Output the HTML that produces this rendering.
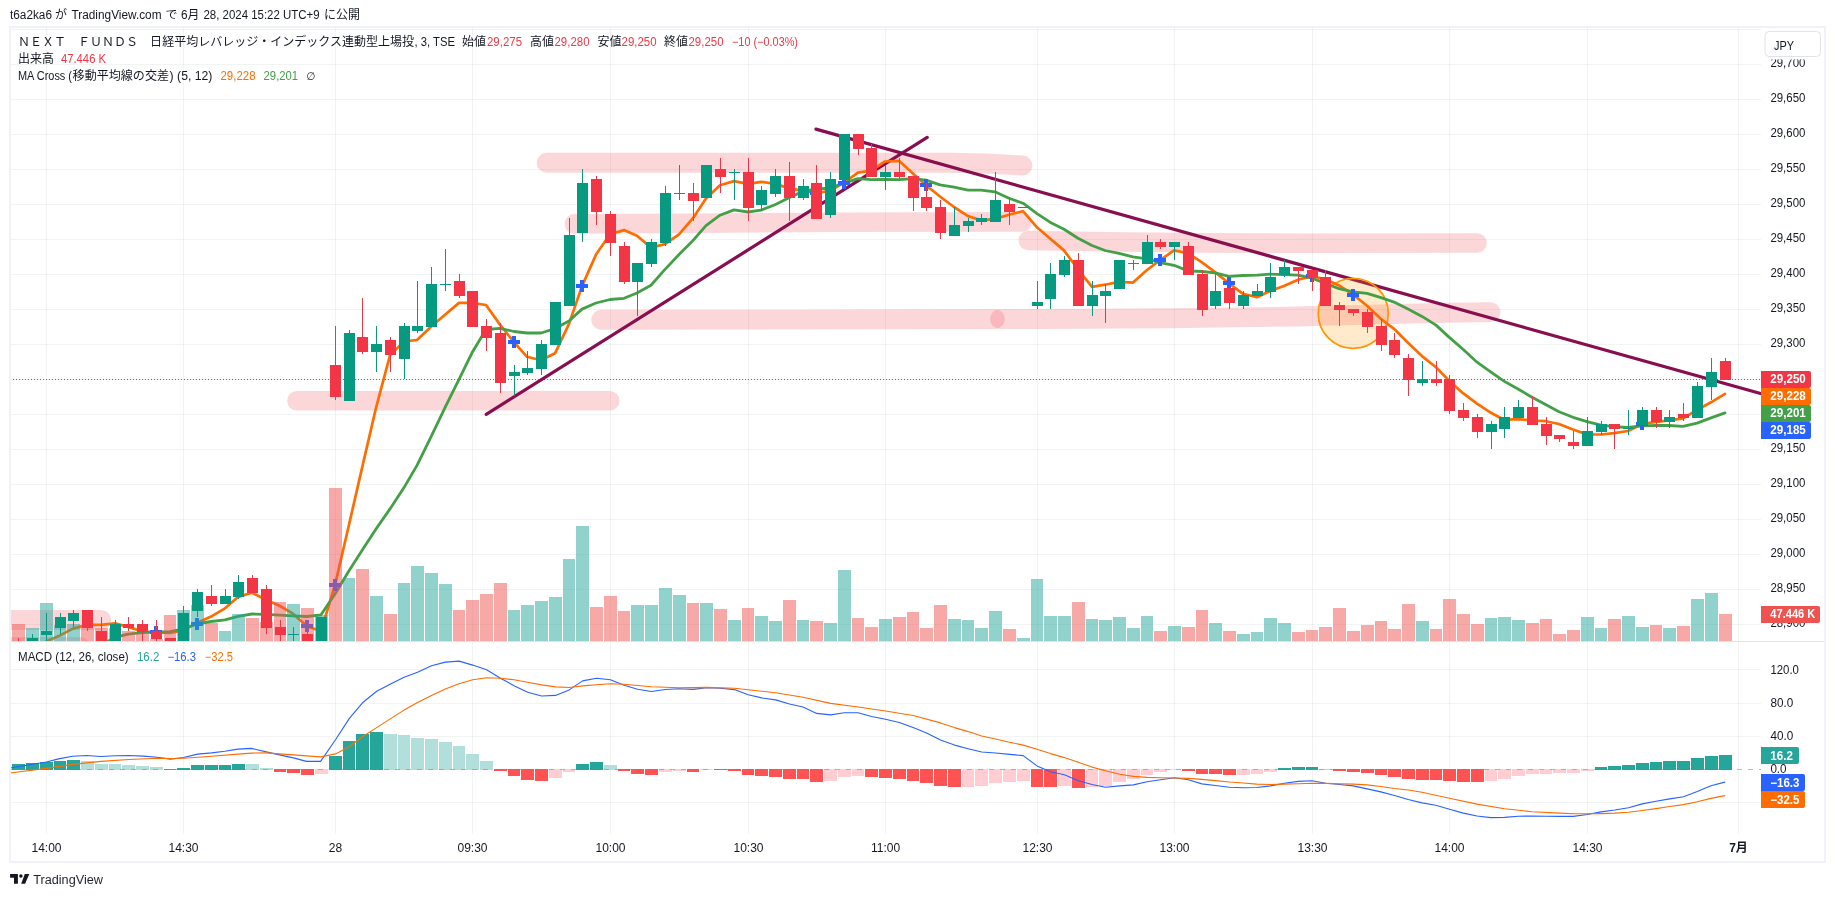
<!DOCTYPE html><html><head><meta charset="utf-8"><title>chart</title><style>html,body{margin:0;padding:0;background:#fff;overflow:hidden}svg{display:block;will-change:transform}text{font-family:'Liberation Sans','Noto Sans CJK JP',sans-serif;font-size:12px;fill:#131722}</style></head><body>
<svg width="1835" height="897" viewBox="0 0 1835 897">
<defs><clipPath id="main"><rect x="10" y="28" width="1751" height="613"/></clipPath><clipPath id="macd"><rect x="10" y="642" width="1751" height="192"/></clipPath></defs>
<path d="M11 29.5H1761 M11 64.5H1761 M11 99.5H1761 M11 134.5H1761 M11 169.5H1761 M11 204.5H1761 M11 239.5H1761 M11 274.5H1761 M11 309.5H1761 M11 344.5H1761 M11 379.5H1761 M11 414.5H1761 M11 449.5H1761 M11 484.5H1761 M11 519.5H1761 M11 554.5H1761 M11 589.5H1761 M11 624.5H1761 M11 669.5H1761 M11 703.5H1761 M11 736.5H1761 M11 802.5H1761" stroke="rgba(42,46,57,0.06)" stroke-width="1" fill="none" shape-rendering="crispEdges"/>
<path d="M46.5 28V833.5 M183.5 28V833.5 M335.5 28V833.5 M472.5 28V833.5 M610.5 28V833.5 M748.5 28V833.5 M885.5 28V833.5 M1037.5 28V833.5 M1174.5 28V833.5 M1312.5 28V833.5 M1449.5 28V833.5 M1587.5 28V833.5 M1738.5 28V833.5" stroke="rgba(42,46,57,0.06)" stroke-width="1" fill="none" shape-rendering="crispEdges"/>
<g clip-path="url(#main)">
<path d="M-20 620 L101.2 620" stroke="rgba(242,54,69,0.2)" stroke-width="20" stroke-linecap="round" stroke-linejoin="round" fill="none"/>
<path d="M-20 647 L80 647" stroke="rgba(242,54,69,0.2)" stroke-width="20" stroke-linecap="round" stroke-linejoin="round" fill="none"/>
<path d="M297 400.8 L609.7 400.8" stroke="rgba(242,54,69,0.2)" stroke-width="19.6" stroke-linecap="round" stroke-linejoin="round" fill="none"/>
<path d="M601.2 319.8 L800 319.6 L995 319" stroke="rgba(242,54,69,0.2)" stroke-width="19.9" stroke-linecap="round" stroke-linejoin="round" fill="none"/>
<path d="M1000 319 L1045 319 L1170 318.3 L1296 316.5 L1371 314.6 L1446 312.8 L1490.5 312.1" stroke="rgba(242,54,69,0.2)" stroke-width="19.9" stroke-linecap="round" stroke-linejoin="round" fill="none"/>
<path d="M546.7 162.7 L950 162.8 L985 163.4 L1005 164.5 L1022.4 165.6" stroke="rgba(242,54,69,0.2)" stroke-width="20" stroke-linecap="round" stroke-linejoin="round" fill="none"/>
<path d="M574.4 223.9 L697 223.3 L836 222.2 L1022.3 221.9" stroke="rgba(242,54,69,0.2)" stroke-width="19.6" stroke-linecap="round" stroke-linejoin="round" fill="none"/>
<path d="M1028.3 240.5 L1108 241.7 L1206 242.9 L1304 243.2 L1477 243" stroke="rgba(242,54,69,0.2)" stroke-width="19.6" stroke-linecap="round" stroke-linejoin="round" fill="none"/>
<path d="M10 379.5H1761" stroke="#f23645" stroke-width="1" stroke-dasharray="1 2" fill="none" shape-rendering="crispEdges"/>
<path d="M486.2 414.4L927.2 137.4" stroke="#880e4f" stroke-width="3.2" stroke-linecap="round" fill="none"/>
<path d="M815.9 129.1L1770 396.2" stroke="#880e4f" stroke-width="3.2" stroke-linecap="round" fill="none"/>
<circle cx="1353.25" cy="313.4" r="35" fill="rgba(255,152,0,0.2)" stroke="#ff9800" stroke-width="1.8"/>
<path d="M46.4 641.2 L60.0 635.4 L73.0 628.6 L87.0 624.9 L101.0 624.9 L115.0 623.4 L128.0 626.9 L142.0 631.3 L156.0 632.7 L170.0 633.0 L183.0 630.4 L197.0 623.0 L211.0 616.6 L225.0 608.3 L238.0 596.9 L252.0 592.7 L266.0 599.7 L280.0 606.0 L293.0 613.7 L307.0 626.3 L321.0 631.2 L335.0 585.0 L349.0 524.8 L362.0 468.1 L376.0 407.9 L390.0 355.4 L404.0 341.4 L417.0 340.0 L431.0 326.7 L445.0 314.8 L459.0 302.9 L472.0 302.9 L486.0 305.0 L500.0 324.6 L514.0 342.1 L527.0 356.8 L541.0 360.3 L555.0 353.3 L569.0 323.9 L582.0 286.1 L596.0 254.6 L610.0 234.3 L624.0 230.1 L637.0 235.7 L651.0 247.6 L665.0 244.1 L679.0 234.3 L693.0 218.2 L706.0 198.6 L720.0 185.3 L734.0 181.1 L748.0 183.9 L761.0 181.8 L775.0 183.9 L789.0 188.1 L803.0 190.9 L816.0 193.0 L830.0 190.9 L844.0 182.5 L858.0 172.7 L871.0 170.6 L885.0 161.5 L899.0 160.8 L913.0 173.4 L926.0 185.3 L940.0 196.5 L954.0 207.0 L968.0 216.1 L981.0 220.3 L995.0 218.9 L1009.0 214.7 L1023.0 211.2 L1037.0 227.3 L1050.0 238.5 L1064.0 250.4 L1078.0 269.3 L1092.0 286.8 L1105.0 284.7 L1119.0 281.9 L1133.0 282.6 L1147.0 270.0 L1160.0 260.2 L1174.0 250.4 L1188.0 253.2 L1202.0 262.3 L1215.0 272.1 L1229.0 283.3 L1243.0 293.8 L1257.0 297.3 L1270.0 291.0 L1284.0 286.1 L1298.0 279.8 L1312.0 276.3 L1325.0 279.1 L1339.0 285.4 L1353.0 294.5 L1367.0 305.7 L1381.0 319.0 L1394.0 328.8 L1408.0 342.8 L1422.0 356.1 L1436.0 367.3 L1449.0 380.6 L1463.0 393.2 L1477.0 403.7 L1491.0 412.8 L1504.0 419.8 L1518.0 419.1 L1532.0 420.5 L1546.0 421.2 L1559.0 424.0 L1573.0 429.6 L1587.0 434.5 L1601.0 434.5 L1614.0 433.1 L1628.0 431.0 L1642.0 424.0 L1656.0 421.9 L1669.0 420.5 L1683.0 418.4 L1697.0 410.0 L1711.0 402.3 L1725.0 393.9" stroke="#ff6d00" stroke-width="2.7" stroke-linejoin="round" stroke-linecap="round" fill="none"/>
<path d="M107.8 641.5 L115.0 637.3 L128.0 634.1 L142.0 632.7 L156.0 632.1 L170.0 631.7 L183.0 629.0 L197.0 624.0 L211.0 621.5 L225.0 619.8 L238.0 616.3 L252.0 614.0 L266.0 614.3 L280.0 615.2 L293.0 615.8 L307.0 616.5 L321.0 614.8 L335.0 594.0 L349.0 570.7 L362.0 550.6 L376.0 529.0 L390.0 508.9 L404.0 487.6 L417.0 465.4 L431.0 436.8 L445.0 407.7 L459.0 379.4 L472.0 352.8 L486.0 329.5 L500.0 328.3 L514.0 331.5 L527.0 333.0 L541.0 333.0 L555.0 328.6 L569.0 321.0 L582.0 309.1 L596.0 303.0 L610.0 299.5 L624.0 298.3 L637.0 293.0 L651.0 285.2 L665.0 269.4 L679.0 254.5 L693.0 240.5 L706.0 225.7 L720.0 215.2 L734.0 209.9 L748.0 212.0 L761.0 210.2 L775.0 204.7 L789.0 197.7 L803.0 191.2 L816.0 189.2 L830.0 188.0 L844.0 183.1 L858.0 178.7 L871.0 179.6 L885.0 179.3 L899.0 179.6 L913.0 178.7 L926.0 180.2 L940.0 184.8 L954.0 187.2 L968.0 190.1 L981.0 190.1 L995.0 191.8 L1009.0 198.2 L1023.0 203.2 L1037.0 213.7 L1050.0 222.2 L1064.0 229.2 L1078.0 238.2 L1092.0 245.5 L1105.0 250.5 L1119.0 253.4 L1133.0 256.9 L1147.0 258.9 L1160.0 262.7 L1174.0 265.3 L1188.0 270.9 L1202.0 271.5 L1215.0 272.9 L1229.0 276.4 L1243.0 275.5 L1257.0 275.2 L1270.0 274.1 L1284.0 274.7 L1298.0 275.2 L1312.0 278.2 L1325.0 283.1 L1339.0 288.7 L1353.0 291.9 L1367.0 293.3 L1381.0 297.7 L1394.0 302.1 L1408.0 309.1 L1422.0 316.4 L1436.0 325.1 L1449.0 337.1 L1463.0 349.3 L1477.0 362.2 L1491.0 372.1 L1504.0 381.1 L1518.0 389.0 L1532.0 397.2 L1546.0 404.8 L1559.0 411.8 L1573.0 417.3 L1587.0 421.7 L1601.0 425.2 L1614.0 426.6 L1628.0 427.5 L1642.0 425.8 L1656.0 425.5 L1669.0 425.5 L1683.0 426.3 L1697.0 423.1 L1711.0 417.9 L1725.0 412.9" stroke="#43a047" stroke-width="2.8" stroke-linejoin="round" stroke-linecap="round" fill="none"/>
<path d="M150.0 630h12v4h-12zM154.0 626h4v12h-4zM191.0 622h12v4h-12zM195.0 618h4v12h-4zM301.0 624h12v4h-12zM305.0 620h4v12h-4zM329.0 583h12v4h-12zM333.0 579h4v12h-4zM508.0 340h12v4h-12zM512.0 336h4v12h-4zM576.0 284h12v4h-12zM580.0 280h4v12h-4zM810.0 191h12v4h-12zM814.0 187h4v12h-4zM838.0 181h12v4h-12zM842.0 177h4v12h-4zM920.0 183h12v4h-12zM924.0 179h4v12h-4zM1154.0 258h12v4h-12zM1158.0 254h4v12h-4zM1223.0 281h12v4h-12zM1227.0 277h4v12h-4zM1306.0 274h12v4h-12zM1310.0 270h4v12h-4zM1347.0 293h12v4h-12zM1351.0 289h4v12h-4zM1636.0 422h12v4h-12zM1640.0 418h4v12h-4z" fill="#2962ff" shape-rendering="crispEdges"/>
<path d="M26.0 628h13.0V641h-13.0zM40.0 603h13.0V641h-13.0zM54.0 625h12.0V641h-12.0zM67.0 624h13.0V641h-13.0zM109.0 628h12.0V641h-12.0zM177.0 610h13.0V641h-13.0zM191.0 605h13.0V641h-13.0zM219.0 631h12.0V641h-12.0zM232.0 614h13.0V641h-13.0zM287.0 604h13.0V641h-13.0zM315.0 615h13.0V641h-13.0zM343.0 578h12.0V641h-12.0zM370.0 596h13.0V641h-13.0zM398.0 583h12.0V641h-12.0zM411.0 566h13.0V641h-13.0zM425.0 573h13.0V641h-13.0zM439.0 584h13.0V641h-13.0zM508.0 610h12.0V641h-12.0zM521.0 605h13.0V641h-13.0zM535.0 601h13.0V641h-13.0zM549.0 597h13.0V641h-13.0zM563.0 559h12.0V641h-12.0zM576.0 526h13.0V641h-13.0zM631.0 605h13.0V641h-13.0zM645.0 605h13.0V641h-13.0zM659.0 588h13.0V641h-13.0zM673.0 595h13.0V641h-13.0zM700.0 603h13.0V641h-13.0zM728.0 620h13.0V641h-13.0zM755.0 616h13.0V641h-13.0zM769.0 621h13.0V641h-13.0zM797.0 620h12.0V641h-12.0zM824.0 623h13.0V641h-13.0zM838.0 570h13.0V641h-13.0zM879.0 619h13.0V641h-13.0zM948.0 619h13.0V641h-13.0zM962.0 620h12.0V641h-12.0zM975.0 628h13.0V641h-13.0zM989.0 611h13.0V641h-13.0zM1017.0 638h13.0V641h-13.0zM1031.0 579h12.0V641h-12.0zM1044.0 616h13.0V641h-13.0zM1058.0 616h13.0V641h-13.0zM1086.0 619h12.0V641h-12.0zM1099.0 620h13.0V641h-13.0zM1113.0 617h13.0V641h-13.0zM1127.0 628h13.0V641h-13.0zM1141.0 616h12.0V641h-12.0zM1168.0 626h13.0V641h-13.0zM1209.0 623h13.0V641h-13.0zM1237.0 634h13.0V641h-13.0zM1251.0 632h12.0V641h-12.0zM1264.0 618h13.0V641h-13.0zM1278.0 623h13.0V641h-13.0zM1416.0 621h13.0V641h-13.0zM1485.0 618h12.0V641h-12.0zM1498.0 617h13.0V641h-13.0zM1512.0 620h13.0V641h-13.0zM1581.0 617h13.0V641h-13.0zM1595.0 628h12.0V641h-12.0zM1622.0 616h13.0V641h-13.0zM1636.0 627h13.0V641h-13.0zM1663.0 628h13.0V641h-13.0zM1691.0 599h13.0V641h-13.0zM1705.0 593h13.0V641h-13.0z" fill="rgba(38,166,154,0.5)"/>
<path d="M12.0 624h13.0V641h-13.0zM81.0 628h13.0V641h-13.0zM95.0 628h13.0V641h-13.0zM122.0 631h13.0V641h-13.0zM136.0 634h13.0V641h-13.0zM150.0 639h13.0V641h-13.0zM164.0 615h12.0V641h-12.0zM205.0 623h13.0V641h-13.0zM246.0 618h13.0V641h-13.0zM260.0 622h13.0V641h-13.0zM274.0 602h12.0V641h-12.0zM301.0 608h13.0V641h-13.0zM329.0 488h13.0V641h-13.0zM356.0 569h13.0V641h-13.0zM384.0 614h13.0V641h-13.0zM453.0 610h12.0V641h-12.0zM466.0 600h13.0V641h-13.0zM480.0 594h13.0V641h-13.0zM494.0 583h13.0V641h-13.0zM590.0 607h13.0V641h-13.0zM604.0 596h13.0V641h-13.0zM618.0 611h12.0V641h-12.0zM687.0 603h12.0V641h-12.0zM714.0 609h13.0V641h-13.0zM742.0 608h12.0V641h-12.0zM783.0 600h13.0V641h-13.0zM810.0 621h13.0V641h-13.0zM852.0 618h12.0V641h-12.0zM865.0 627h13.0V641h-13.0zM893.0 617h13.0V641h-13.0zM907.0 612h12.0V641h-12.0zM920.0 628h13.0V641h-13.0zM934.0 605h13.0V641h-13.0zM1003.0 629h13.0V641h-13.0zM1072.0 602h13.0V641h-13.0zM1154.0 631h13.0V641h-13.0zM1182.0 627h13.0V641h-13.0zM1196.0 610h12.0V641h-12.0zM1223.0 631h13.0V641h-13.0zM1292.0 632h13.0V641h-13.0zM1306.0 630h12.0V641h-12.0zM1319.0 627h13.0V641h-13.0zM1333.0 608h13.0V641h-13.0zM1347.0 631h13.0V641h-13.0zM1361.0 625h13.0V641h-13.0zM1375.0 621h12.0V641h-12.0zM1388.0 629h13.0V641h-13.0zM1402.0 604h13.0V641h-13.0zM1430.0 629h12.0V641h-12.0zM1443.0 599h13.0V641h-13.0zM1457.0 614h13.0V641h-13.0zM1471.0 624h13.0V641h-13.0zM1526.0 623h13.0V641h-13.0zM1540.0 619h12.0V641h-12.0zM1553.0 634h13.0V641h-13.0zM1567.0 630h13.0V641h-13.0zM1608.0 619h13.0V641h-13.0zM1650.0 625h12.0V641h-12.0zM1677.0 626h13.0V641h-13.0zM1719.0 614h13V641h-13z" fill="rgba(239,83,80,0.5)"/>
<path d="M32.5 634V650M46.5 613V650M60.5 613V634M73.5 610V627M115.5 620V650M183.5 606V650M197.5 589V617M225.5 589V604M238.5 575V599M293.5 627V650M321.5 617V650M349.5 330V401M376.5 326V372M404.5 323V379M417.5 281V333M431.5 267V327M445.5 249V291M514.5 365V396M527.5 351V375M541.5 340V375M555.5 302V345M569.5 218V306M582.5 169V242M637.5 263V316M651.5 239V267M665.5 186V246M679.5 165V200M706.5 165V198M734.5 169V200M761.5 186V211M775.5 169V197M803.5 179V200M830.5 172V218M844.5 134V180M885.5 165V190M954.5 207V236M968.5 218V232M981.5 214V225M995.5 172V222M1023.5 207V208M1037.5 281V309M1050.5 263V309M1064.5 256V277M1092.5 281V316M1105.5 284V323M1119.5 260V289M1133.5 260V270M1147.5 235V264M1174.5 242V260M1215.5 274V309M1243.5 291V309M1257.5 284V296M1270.5 263V298M1284.5 260V277M1422.5 361V386M1491.5 421V449M1504.5 407V438M1518.5 400V418M1587.5 417V446M1601.5 421V435M1628.5 410V435M1642.5 407V425M1669.5 410V428M1697.5 382V418M1711.5 358V400" stroke="#089981" stroke-width="1" fill="none" shape-rendering="crispEdges"/>
<path d="M18.5 638V650M87.5 610V631M101.5 617V650M128.5 617V631M142.5 620V650M156.5 620V640.8M170.5 638V650M211.5 585V606M252.5 575V593M266.5 585V634M280.5 620V650M307.5 627V650M335.5 326V400M362.5 298V354M390.5 337V372M459.5 274V298M472.5 291V327M486.5 319V351M500.5 323V393M596.5 176V225M610.5 211V256M624.5 242V284M693.5 183V221M720.5 158V193M748.5 158V221M789.5 162V221M816.5 165V219M858.5 134V155M871.5 144V177M899.5 158V179M913.5 176V211M926.5 183V211M940.5 200V239M1009.5 197V225M1078.5 253V306M1160.5 239V249M1188.5 242V275M1202.5 270V316M1229.5 288V309M1298.5 267V284M1312.5 270V291M1325.5 270V306M1339.5 302V326M1353.5 309V316M1367.5 309V333M1381.5 319V351M1394.5 333V358M1408.5 354V396M1436.5 361V386M1449.5 375V414M1463.5 403V421M1477.5 414V438M1532.5 396V425M1546.5 417V445M1559.5 435V442M1573.5 431V449M1614.5 424V449M1656.5 407V428M1683.5 403V421M1725.5 358V380" stroke="#f23645" stroke-width="1" fill="none" shape-rendering="crispEdges"/>
<path d="M27.0 638h11V650h-11zM41.0 631h11V635h-11zM55.0 617h11V628h-11zM68.0 613h11V621h-11zM110.0 624h11V650h-11zM178.0 613h11V650h-11zM192.0 592h11V611h-11zM220.0 596h11V604h-11zM233.0 582h11V597h-11zM288.0 634h11V635h-11zM316.0 617h11V650h-11zM344.0 333h11V401h-11zM371.0 344h11V352h-11zM399.0 326h11V359h-11zM412.0 326h11V331h-11zM426.0 284h11V327h-11zM440.0 284h11V285h-11zM509.0 372h11V376h-11zM522.0 368h11V373h-11zM536.0 344h11V369h-11zM550.0 302h11V345h-11zM564.0 235h11V306h-11zM577.0 183h11V233h-11zM632.0 263h11V282h-11zM646.0 242h11V264h-11zM660.0 193h11V243h-11zM674.0 193h11V194h-11zM701.0 165h11V198h-11zM729.0 172h11V173h-11zM756.0 190h11V205h-11zM770.0 176h11V194h-11zM798.0 186h11V198h-11zM825.0 179h11V215h-11zM839.0 134h11V180h-11zM880.0 172h11V177h-11zM949.0 225h11V236h-11zM963.0 221h11V226h-11zM976.0 218h11V222h-11zM990.0 200h11V222h-11zM1018.0 207h11V208h-11zM1032.0 302h11V306h-11zM1045.0 274h11V299h-11zM1059.0 260h11V275h-11zM1087.0 295h11V306h-11zM1100.0 291h11V296h-11zM1114.0 260h11V289h-11zM1128.0 263h11V264h-11zM1142.0 242h11V264h-11zM1169.0 242h11V247h-11zM1210.0 291h11V306h-11zM1238.0 295h11V306h-11zM1252.0 291h11V296h-11zM1265.0 277h11V292h-11zM1279.0 267h11V275h-11zM1417.0 379h11V383h-11zM1486.0 424h11V432h-11zM1499.0 417h11V429h-11zM1513.0 407h11V418h-11zM1582.0 431h11V446h-11zM1596.0 424h11V432h-11zM1623.0 428h11V429h-11zM1637.0 410h11V425h-11zM1664.0 417h11V422h-11zM1692.0 386h11V418h-11zM1706.0 372h11V387h-11z" fill="#089981" shape-rendering="crispEdges"/>
<path d="M13.0 641h11V650h-11zM82.0 610h11V628h-11zM96.0 631h11V650h-11zM123.0 624h11V628h-11zM137.0 624h11V632h-11zM151.0 631h11V639h-11zM165.0 638h11V650h-11zM206.0 596h11V604h-11zM247.0 578h11V593h-11zM261.0 589h11V628h-11zM275.0 627h11V635h-11zM302.0 634h11V650h-11zM330.0 365h11V397h-11zM357.0 337h11V352h-11zM385.0 340h11V355h-11zM454.0 281h11V296h-11zM467.0 291h11V327h-11zM481.0 326h11V338h-11zM495.0 333h11V383h-11zM591.0 179h11V212h-11zM605.0 214h11V243h-11zM619.0 246h11V282h-11zM688.0 193h11V201h-11zM715.0 169h11V177h-11zM743.0 172h11V208h-11zM784.0 176h11V198h-11zM811.0 183h11V219h-11zM853.0 134h11V149h-11zM866.0 148h11V177h-11zM894.0 172h11V177h-11zM908.0 176h11V198h-11zM921.0 197h11V208h-11zM935.0 207h11V233h-11zM1004.0 204h11V212h-11zM1073.0 260h11V306h-11zM1155.0 242h11V247h-11zM1183.0 246h11V275h-11zM1197.0 274h11V310h-11zM1224.0 288h11V303h-11zM1293.0 267h11V271h-11zM1307.0 270h11V278h-11zM1320.0 277h11V306h-11zM1334.0 305h11V310h-11zM1348.0 309h11V313h-11zM1362.0 312h11V327h-11zM1376.0 326h11V345h-11zM1389.0 340h11V355h-11zM1403.0 358h11V380h-11zM1431.0 379h11V383h-11zM1444.0 379h11V411h-11zM1458.0 410h11V418h-11zM1472.0 417h11V432h-11zM1527.0 407h11V425h-11zM1541.0 424h11V436h-11zM1554.0 435h11V439h-11zM1568.0 442h11V446h-11zM1609.0 424h11V429h-11zM1651.0 410h11V422h-11zM1678.0 414h11V418h-11zM1720.0 361h11V380h-11z" fill="#f23645" shape-rendering="crispEdges"/>
</g>
<g clip-path="url(#macd)">
<path d="M12.0 764h13.0V770h-13.0zM26.0 763h13.0V770h-13.0zM40.0 762h13.0V770h-13.0zM54.0 761h12.0V770h-12.0zM67.0 760h13.0V770h-13.0zM177.0 768h13.0V770h-13.0zM191.0 765h13.0V770h-13.0zM205.0 765h13.0V770h-13.0zM219.0 765h12.0V770h-12.0zM232.0 764h13.0V770h-13.0zM329.0 756h13.0V770h-13.0zM343.0 741h12.0V770h-12.0zM356.0 734h13.0V770h-13.0zM370.0 732h13.0V770h-13.0zM576.0 764h13.0V770h-13.0zM590.0 762h13.0V770h-13.0zM1278.0 768h13.0V770h-13.0zM1292.0 767h13.0V770h-13.0zM1306.0 767h12.0V770h-12.0zM1595.0 767h12.0V770h-12.0zM1608.0 766h13.0V770h-13.0zM1622.0 765h13.0V770h-13.0zM1636.0 763h13.0V770h-13.0zM1650.0 762h12.0V770h-12.0zM1663.0 761h13.0V770h-13.0zM1677.0 761h13.0V770h-13.0zM1691.0 758h13.0V770h-13.0zM1705.0 756h13.0V770h-13.0zM1719.0 755h13V770h-13z" fill="#26a69a"/>
<path d="M81.0 761h13.0V770h-13.0zM95.0 764h13.0V770h-13.0zM109.0 764h12.0V770h-12.0zM122.0 765h13.0V770h-13.0zM136.0 766h13.0V770h-13.0zM150.0 767h13.0V770h-13.0zM246.0 764h13.0V770h-13.0zM260.0 768h13.0V770h-13.0zM384.0 734h13.0V770h-13.0zM398.0 735h12.0V770h-12.0zM411.0 738h13.0V770h-13.0zM425.0 739h13.0V770h-13.0zM439.0 742h13.0V770h-13.0zM453.0 746h12.0V770h-12.0zM466.0 754h13.0V770h-13.0zM480.0 761h13.0V770h-13.0zM604.0 765h13.0V770h-13.0zM1319.0 769h13.0V770h-13.0z" fill="#b2dfdb"/>
<path d="M164.0 769h12.0V770h-12.0zM274.0 769h12.0V772h-12.0zM287.0 769h13.0V773h-13.0zM301.0 769h13.0V775h-13.0zM494.0 769h13.0V771h-13.0zM508.0 769h12.0V776h-12.0zM521.0 769h13.0V780h-13.0zM535.0 769h13.0V781h-13.0zM618.0 769h12.0V771h-12.0zM631.0 769h13.0V774h-13.0zM645.0 769h13.0V775h-13.0zM687.0 769h12.0V772h-12.0zM714.0 769h13.0V770h-13.0zM728.0 769h13.0V771h-13.0zM742.0 769h12.0V775h-12.0zM755.0 769h13.0V776h-13.0zM769.0 769h13.0V777h-13.0zM783.0 769h13.0V779h-13.0zM797.0 769h12.0V779h-12.0zM810.0 769h13.0V782h-13.0zM865.0 769h13.0V777h-13.0zM879.0 769h13.0V778h-13.0zM893.0 769h13.0V779h-13.0zM907.0 769h12.0V781h-12.0zM920.0 769h13.0V783h-13.0zM934.0 769h13.0V786h-13.0zM948.0 769h13.0V787h-13.0zM1031.0 769h12.0V787h-12.0zM1044.0 769h13.0V787h-13.0zM1072.0 769h13.0V788h-13.0zM1182.0 769h13.0V771h-13.0zM1196.0 769h12.0V774h-12.0zM1209.0 769h13.0V774h-13.0zM1223.0 769h13.0V775h-13.0zM1333.0 769h13.0V771h-13.0zM1347.0 769h13.0V772h-13.0zM1361.0 769h13.0V773h-13.0zM1375.0 769h12.0V775h-12.0zM1388.0 769h13.0V777h-13.0zM1402.0 769h13.0V779h-13.0zM1416.0 769h13.0V780h-13.0zM1430.0 769h12.0V780h-12.0zM1443.0 769h13.0V781h-13.0zM1457.0 769h13.0V782h-13.0zM1471.0 769h13.0V782h-13.0z" fill="#ff5252"/>
<path d="M315.0 769h13.0V774h-13.0zM549.0 769h13.0V778h-13.0zM563.0 769h12.0V772h-12.0zM659.0 769h13.0V772h-13.0zM673.0 769h13.0V771h-13.0zM700.0 769h13.0V770h-13.0zM824.0 769h13.0V781h-13.0zM838.0 769h13.0V777h-13.0zM852.0 769h12.0V776h-12.0zM962.0 769h12.0V787h-12.0zM975.0 769h13.0V786h-13.0zM989.0 769h13.0V783h-13.0zM1003.0 769h13.0V782h-13.0zM1017.0 769h13.0V781h-13.0zM1058.0 769h13.0V786h-13.0zM1086.0 769h12.0V787h-12.0zM1099.0 769h13.0V786h-13.0zM1113.0 769h13.0V782h-13.0zM1127.0 769h13.0V779h-13.0zM1141.0 769h12.0V775h-12.0zM1154.0 769h13.0V772h-13.0zM1168.0 769h13.0V770h-13.0zM1237.0 769h13.0V775h-13.0zM1251.0 769h12.0V774h-12.0zM1264.0 769h13.0V772h-13.0zM1485.0 769h12.0V781h-12.0zM1498.0 769h13.0V779h-13.0zM1512.0 769h13.0V776h-13.0zM1526.0 769h13.0V774h-13.0zM1540.0 769h12.0V774h-12.0zM1553.0 769h13.0V773h-13.0zM1567.0 769h13.0V773h-13.0zM1581.0 769h13.0V771h-13.0z" fill="#ffcdd2"/>
<path d="M10 769.5H1761" stroke="#787b86" stroke-opacity="0.5" stroke-width="1" stroke-dasharray="5 6" fill="none"/>
<path d="M10.0 768.0 L46.4 762.0 L58.5 758.9 L72.6 756.3 L86.7 755.5 L100.8 756.5 L115.0 755.7 L129.0 755.5 L143.2 756.1 L157.3 757.3 L170.4 759.1 L183.5 757.5 L197.6 754.1 L211.7 752.9 L224.8 751.3 L238.0 749.1 L251.5 748.4 L266.2 751.9 L279.3 754.9 L293.4 757.9 L306.5 761.4 L320.6 761.4 L335.5 739.7 L349.2 718.6 L362.5 702.8 L376.7 691.3 L390.6 683.9 L404.1 677.2 L417.6 672.2 L431.5 665.7 L445.4 662.1 L459.1 661.1 L472.7 665.1 L486.6 669.8 L500.5 678.2 L514.0 685.7 L527.7 692.3 L541.6 696.0 L555.5 695.4 L569.2 689.9 L582.6 680.9 L596.5 678.2 L610.4 679.8 L624.1 685.3 L637.6 689.3 L651.5 691.5 L665.4 689.5 L678.9 688.7 L693.3 689.4 L706.8 687.8 L720.3 688.2 L734.4 689.6 L748.2 694.7 L761.7 697.9 L775.6 699.9 L789.5 704.0 L803.0 707.0 L816.7 713.4 L830.6 714.9 L844.3 712.8 L858.1 712.8 L871.6 716.5 L885.5 719.3 L899.4 722.5 L913.1 727.6 L926.6 733.0 L940.5 740.1 L954.5 745.1 L968.2 748.7 L981.7 752.0 L995.6 753.0 L1009.5 754.4 L1023.2 755.6 L1037.0 765.9 L1050.5 771.8 L1064.4 774.8 L1078.3 780.8 L1092.0 784.5 L1105.5 787.3 L1119.7 785.9 L1133.4 784.9 L1147.1 781.8 L1160.6 779.8 L1174.5 777.8 L1188.4 779.8 L1201.9 783.9 L1215.4 785.5 L1229.6 787.3 L1243.3 787.7 L1256.8 787.5 L1270.5 785.9 L1284.4 783.2 L1298.3 781.4 L1312.0 780.8 L1325.7 783.2 L1339.5 784.5 L1353.2 785.9 L1367.1 788.9 L1380.8 791.9 L1394.5 795.5 L1408.2 799.5 L1422.0 802.9 L1435.8 805.3 L1449.5 809.3 L1463.3 813.1 L1477.0 816.0 L1490.8 817.6 L1504.6 817.4 L1518.3 816.2 L1532.1 816.0 L1545.8 816.2 L1559.6 816.4 L1573.3 816.4 L1587.3 814.5 L1601.0 811.9 L1614.8 810.0 L1628.5 807.7 L1642.3 803.9 L1656.0 801.3 L1669.8 798.9 L1683.5 796.8 L1697.3 791.5 L1711.0 785.8 L1724.8 782.1" stroke="#2962ff" stroke-width="1.1" stroke-linejoin="round" stroke-linecap="round" fill="none"/>
<path d="M10.0 773.0 L46.4 768.4 L72.6 764.4 L100.8 761.4 L129.0 759.5 L157.3 758.3 L170.4 758.5 L183.5 758.3 L211.7 756.3 L238.0 754.1 L251.5 753.1 L266.2 752.9 L279.3 753.9 L293.4 754.9 L306.5 755.9 L320.6 756.9 L335.5 753.9 L349.2 746.8 L362.5 736.7 L376.7 727.6 L390.6 718.6 L404.1 710.1 L417.6 702.4 L431.5 695.4 L445.4 688.9 L459.1 683.7 L472.7 679.8 L486.6 677.8 L500.5 678.2 L514.0 679.8 L527.7 682.3 L541.6 684.9 L555.5 686.9 L569.2 687.5 L582.6 685.9 L596.5 684.7 L610.4 683.7 L624.1 684.3 L637.6 685.5 L651.5 686.7 L665.4 687.3 L678.9 687.7 L706.8 687.4 L734.4 688.2 L748.2 689.8 L775.6 692.7 L803.0 697.3 L830.6 703.4 L858.1 707.0 L885.5 711.0 L913.1 715.5 L940.5 722.9 L954.5 727.6 L968.2 731.6 L981.7 736.0 L995.6 739.0 L1009.5 742.3 L1023.2 745.1 L1037.0 749.3 L1050.5 753.6 L1064.4 757.6 L1078.3 762.3 L1092.0 767.1 L1105.5 770.7 L1119.7 774.2 L1133.4 776.4 L1147.1 777.4 L1160.6 777.8 L1174.5 778.0 L1188.4 778.4 L1201.9 779.4 L1215.4 780.6 L1229.6 782.0 L1243.3 783.0 L1256.8 784.1 L1270.5 784.5 L1284.4 784.1 L1298.3 783.7 L1312.0 783.2 L1325.7 783.4 L1339.5 783.7 L1353.2 784.1 L1367.1 784.9 L1380.8 786.5 L1394.5 788.5 L1408.2 790.0 L1422.0 792.2 L1449.5 798.2 L1477.0 804.1 L1504.6 808.8 L1532.1 811.7 L1559.6 813.1 L1573.3 813.8 L1587.3 813.8 L1601.0 813.6 L1614.8 813.1 L1628.5 812.2 L1642.3 810.5 L1656.0 808.6 L1669.8 806.5 L1683.5 804.6 L1697.3 801.7 L1711.0 798.4 L1724.8 795.6" stroke="#ff6d00" stroke-width="1.1" stroke-linejoin="round" stroke-linecap="round" fill="none"/>
</g>
<path d="M10 641.5H1824" stroke="#e0e3eb" stroke-width="1" fill="none" shape-rendering="crispEdges"/>
<rect x="10" y="27" width="1815" height="835" fill="none" stroke="#f0f2f7" stroke-width="2" shape-rendering="crispEdges"/>
<text x="1770.4" y="66.8" textLength="35" lengthAdjust="spacingAndGlyphs">29,700</text>
<text x="1770.4" y="101.8" textLength="35" lengthAdjust="spacingAndGlyphs">29,650</text>
<text x="1770.4" y="136.8" textLength="35" lengthAdjust="spacingAndGlyphs">29,600</text>
<text x="1770.4" y="171.8" textLength="35" lengthAdjust="spacingAndGlyphs">29,550</text>
<text x="1770.4" y="206.8" textLength="35" lengthAdjust="spacingAndGlyphs">29,500</text>
<text x="1770.4" y="241.8" textLength="35" lengthAdjust="spacingAndGlyphs">29,450</text>
<text x="1770.4" y="276.8" textLength="35" lengthAdjust="spacingAndGlyphs">29,400</text>
<text x="1770.4" y="311.8" textLength="35" lengthAdjust="spacingAndGlyphs">29,350</text>
<text x="1770.4" y="346.8" textLength="35" lengthAdjust="spacingAndGlyphs">29,300</text>
<text x="1770.4" y="381.8" textLength="35" lengthAdjust="spacingAndGlyphs">29,250</text>
<text x="1770.4" y="416.8" textLength="35" lengthAdjust="spacingAndGlyphs">29,200</text>
<text x="1770.4" y="451.8" textLength="35" lengthAdjust="spacingAndGlyphs">29,150</text>
<text x="1770.4" y="486.8" textLength="35" lengthAdjust="spacingAndGlyphs">29,100</text>
<text x="1770.4" y="521.8" textLength="35" lengthAdjust="spacingAndGlyphs">29,050</text>
<text x="1770.4" y="556.8" textLength="35" lengthAdjust="spacingAndGlyphs">29,000</text>
<text x="1770.4" y="591.8" textLength="35" lengthAdjust="spacingAndGlyphs">28,950</text>
<text x="1770.4" y="626.8" textLength="35" lengthAdjust="spacingAndGlyphs">28,900</text>
<rect x="1762" y="28" width="62" height="31.5" fill="#fff"/>
<rect x="1765" y="31.5" width="55.5" height="25" rx="4" fill="#fff" stroke="#e0e3eb" stroke-width="1"/>
<text x="1774" y="49.5" textLength="20" lengthAdjust="spacingAndGlyphs">JPY</text>
<path d="M1761 371H1809a2 2 0 0 1 2 2V386a2 2 0 0 1 -2 2H1761z" fill="#f23645"/>
<text x="1770.3" y="383.1" textLength="35.5" lengthAdjust="spacingAndGlyphs" fill="#fff" style="fill:#fff" font-weight="bold">29,250</text>
<path d="M1761 388H1809a2 2 0 0 1 2 2V403a2 2 0 0 1 -2 2H1761z" fill="#ff6d00"/>
<text x="1770.3" y="400.1" textLength="35.5" lengthAdjust="spacingAndGlyphs" fill="#fff" style="fill:#fff" font-weight="bold">29,228</text>
<path d="M1761 405H1809a2 2 0 0 1 2 2V420a2 2 0 0 1 -2 2H1761z" fill="#43a047"/>
<text x="1770.3" y="417.1" textLength="35.5" lengthAdjust="spacingAndGlyphs" fill="#fff" style="fill:#fff" font-weight="bold">29,201</text>
<path d="M1761 422H1809a2 2 0 0 1 2 2V437a2 2 0 0 1 -2 2H1761z" fill="#2962ff"/>
<text x="1770.3" y="434.1" textLength="35.5" lengthAdjust="spacingAndGlyphs" fill="#fff" style="fill:#fff" font-weight="bold">29,185</text>
<path d="M1761 606H1818a2 2 0 0 1 2 2V621a2 2 0 0 1 -2 2H1761z" fill="#ef5350"/>
<text x="1770.3" y="618.1" textLength="45" lengthAdjust="spacingAndGlyphs" fill="#fff" style="fill:#fff" font-weight="bold">47.446 K</text>
<text x="1770.4" y="674.0" textLength="28.5" lengthAdjust="spacingAndGlyphs">120.0</text>
<text x="1770.4" y="707.1" textLength="22.8" lengthAdjust="spacingAndGlyphs">80.0</text>
<text x="1770.4" y="740.2" textLength="22.8" lengthAdjust="spacingAndGlyphs">40.0</text>
<text x="1770.4" y="772.9" textLength="16.2" lengthAdjust="spacingAndGlyphs">0.0</text>
<path d="M1761 747H1797a2 2 0 0 1 2 2V762a2 2 0 0 1 -2 2H1761z" fill="#26a69a"/>
<text x="1770.3" y="759.7" textLength="22.6" lengthAdjust="spacingAndGlyphs" fill="#fff" style="fill:#fff" font-weight="bold">16.2</text>
<path d="M1761 774H1803a2 2 0 0 1 2 2V789a2 2 0 0 1 -2 2H1761z" fill="#2962ff"/>
<text x="1770.3" y="786.7" textLength="29.2" lengthAdjust="spacingAndGlyphs" fill="#fff" style="fill:#fff" font-weight="bold">−16.3</text>
<path d="M1761 791H1803a2 2 0 0 1 2 2V806a2 2 0 0 1 -2 2H1761z" fill="#ff6d00"/>
<text x="1770.3" y="803.7" textLength="29.2" lengthAdjust="spacingAndGlyphs" fill="#fff" style="fill:#fff" font-weight="bold">−32.5</text>
<text x="46.5" y="851.8" text-anchor="middle">14:00</text>
<text x="183.5" y="851.8" text-anchor="middle">14:30</text>
<text x="335.5" y="851.8" text-anchor="middle">28</text>
<text x="472.5" y="851.8" text-anchor="middle">09:30</text>
<text x="610.5" y="851.8" text-anchor="middle">10:00</text>
<text x="748.5" y="851.8" text-anchor="middle">10:30</text>
<text x="885.5" y="851.8" text-anchor="middle">11:00</text>
<text x="1037.5" y="851.8" text-anchor="middle">12:30</text>
<text x="1174.5" y="851.8" text-anchor="middle">13:00</text>
<text x="1312.5" y="851.8" text-anchor="middle">13:30</text>
<text x="1449.5" y="851.8" text-anchor="middle">14:00</text>
<text x="1587.5" y="851.8" text-anchor="middle">14:30</text>
<text x="1738.5" y="851.8" font-weight="bold" text-anchor="middle">7月</text>
<text x="10" y="19" textLength="42" lengthAdjust="spacingAndGlyphs">t6a2ka6</text>
<text x="55" y="19" textLength="12" lengthAdjust="spacingAndGlyphs">が</text>
<text x="71.5" y="19" textLength="90" lengthAdjust="spacingAndGlyphs">TradingView.com</text>
<text x="165.5" y="19" textLength="12" lengthAdjust="spacingAndGlyphs">で</text>
<text x="181" y="19" textLength="18.5" lengthAdjust="spacingAndGlyphs">6月</text>
<text x="203.5" y="19" textLength="116" lengthAdjust="spacingAndGlyphs">28, 2024 15:22 UTC+9</text>
<text x="324" y="19" textLength="36" lengthAdjust="spacingAndGlyphs">に公開</text>
<text x="18" y="45.8" textLength="396" lengthAdjust="spacingAndGlyphs">ＮＥＸＴ　ＦＵＮＤＳ　日経平均レバレッジ・インデックス連動型上場投</text>
<text x="414.5" y="45.8" textLength="40.5" lengthAdjust="spacingAndGlyphs">, 3, TSE</text>
<text x="462" y="45.8" textLength="24" lengthAdjust="spacingAndGlyphs">始値</text>
<text x="487" y="45.8" textLength="35" lengthAdjust="spacingAndGlyphs" fill="#f23645" style="fill:#f23645">29,275</text>
<text x="530" y="45.8" textLength="24" lengthAdjust="spacingAndGlyphs">高値</text>
<text x="554.5" y="45.8" textLength="35" lengthAdjust="spacingAndGlyphs" fill="#f23645" style="fill:#f23645">29,280</text>
<text x="597.5" y="45.8" textLength="24" lengthAdjust="spacingAndGlyphs">安値</text>
<text x="621.6" y="45.8" textLength="35" lengthAdjust="spacingAndGlyphs" fill="#f23645" style="fill:#f23645">29,250</text>
<text x="664" y="45.8" textLength="24" lengthAdjust="spacingAndGlyphs">終値</text>
<text x="688.5" y="45.8" textLength="35" lengthAdjust="spacingAndGlyphs" fill="#f23645" style="fill:#f23645">29,250</text>
<text x="732" y="45.8" textLength="66" lengthAdjust="spacingAndGlyphs" fill="#f23645" style="fill:#f23645">−10 (−0.03%)</text>
<text x="18" y="62.6" textLength="36" lengthAdjust="spacingAndGlyphs">出来高</text>
<text x="61" y="62.6" textLength="45" lengthAdjust="spacingAndGlyphs" fill="#f23645" style="fill:#f23645">47.446 K</text>
<text x="18" y="80" textLength="54" lengthAdjust="spacingAndGlyphs">MA Cross (</text>
<text x="72.6" y="80" textLength="96.4" lengthAdjust="spacingAndGlyphs">移動平均線の交差</text>
<text x="169.6" y="80" textLength="42.8" lengthAdjust="spacingAndGlyphs">) (5, 12)</text>
<text x="220.5" y="80" textLength="35" lengthAdjust="spacingAndGlyphs" fill="#ff6d00" style="fill:#ff6d00">29,228</text>
<text x="263.6" y="80" textLength="34.5" lengthAdjust="spacingAndGlyphs" fill="#43a047" style="fill:#43a047">29,201</text>
<text x="306.3" y="80" textLength="9" lengthAdjust="spacingAndGlyphs" style="font-family:'DejaVu Sans',sans-serif;font-size:11px">∅</text>
<text x="18" y="661" textLength="110.7" lengthAdjust="spacingAndGlyphs">MACD (12, 26, close)</text>
<text x="137" y="661" textLength="22.3" lengthAdjust="spacingAndGlyphs" fill="#26a69a" style="fill:#26a69a">16.2</text>
<text x="167.4" y="661" textLength="28.6" lengthAdjust="spacingAndGlyphs" fill="#2962ff" style="fill:#2962ff">−16.3</text>
<text x="204.7" y="661" textLength="28.3" lengthAdjust="spacingAndGlyphs" fill="#ff6d00" style="fill:#ff6d00">−32.5</text>
<g fill="#131722"><path d="M10.1 874.1h7.8v9.7h-3.9v-6h-3.9z"/><circle cx="20.9" cy="875.9" r="1.75"/><path d="M24.8 874.1h4.5l-4.2 9.7h-3.9z"/></g>
<text x="33.2" y="883.8" textLength="69.8" lengthAdjust="spacingAndGlyphs" fill="#1e222d" style="fill:#1e222d" font-size="12.5">TradingView</text>
</svg></body></html>
